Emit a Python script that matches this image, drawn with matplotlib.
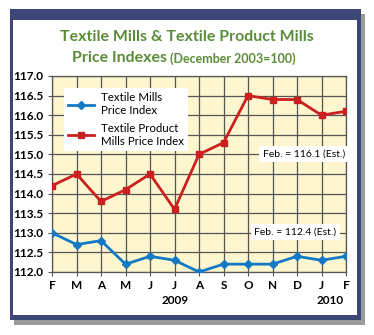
import numpy as np
import matplotlib.pyplot as plt
from matplotlib.patches import Rectangle

# Monthly price indexes, Feb 2009 - Feb 2010 (December 2003 = 100)
months = ['F', 'M', 'A', 'M', 'J', 'J', 'A', 'S', 'O', 'N', 'D', 'J', 'F']
mills = [113.0, 112.7, 112.8, 112.2, 112.4, 112.3, 112.0, 112.2, 112.2, 112.2, 112.4, 112.3, 112.4]
product_mills = [114.2, 114.5, 113.8, 114.1, 114.5, 113.6, 115.0, 115.3, 116.5, 116.4, 116.4, 116.0, 116.1]
yticks = [112.0, 112.5, 113.0, 113.5, 114.0, 114.5, 115.0, 115.5, 116.0, 116.5, 117.0]

W, H = 374, 335
fig = plt.figure(figsize=(W / 100, H / 100), dpi=100)
fig.patch.set_facecolor('white')

def px(x0, y0, x1, y1):
    # pixel box (top-left origin) -> figure fraction rect
    return (x0 / W, 1 - y1 / H), (x1 - x0) / W, (y1 - y0) / H

navy = '#3d4677'
# drop shadow, navy frame, white panel
for i, ((x0, y0, x1, y1), c) in enumerate([((14, 14, 365, 325), '#9a9a9a'),
                                           ((10, 9, 361, 320), navy),
                                           ((13, 20, 357, 315), 'white')]):
    xy, w, h = px(x0, y0, x1, y1)
    fig.patches.append(Rectangle(xy, w, h, transform=fig.transFigure,
                                 facecolor=c, edgecolor='none', zorder=-10 + i))

green = '#5b8c3a'
fig.text(187 / W, 1 - 37 / H, 'Textile Mills & Textile Product Mills', ha='center', va='center',
         color=green, fontsize=11.5, fontweight='bold', family='Lato')
fig.text(167 / W, 1 - 58 / H, 'Price Indexes', ha='right', va='center',
         color=green, fontsize=11.5, fontweight='bold', family='Lato')
fig.text(170 / W, 1 - 59 / H, '(December 2003=100)', ha='left', va='center',
         color=green, fontsize=9, fontweight='bold', family='Lato')

xy, w, h = px(52, 76, 346, 272)
ax = fig.add_axes([xy[0], xy[1], w, h])
ax.set_facecolor('#fdf6cf')
x = np.arange(len(months))

ax.plot(x, mills, color='#1479c4', lw=2, marker='D', ms=4.5, label='Textile Mills\nPrice Index', zorder=3)
ax.plot(x, product_mills, color='#cc2020', lw=2, marker='s', ms=4.2, label='Textile Product\nMills Price Index', zorder=3)

ax.set_xlim(0, len(months) - 1)
ax.set_ylim(112, 117)
ax.set_xticks(x)
ax.set_xticklabels(months)
ax.set_yticks(yticks)
ax.set_yticklabels(['%.1f' % v for v in yticks])
ax.grid(True, color='#555555', lw=0.9)
ax.set_axisbelow(True)
for s in ax.spines.values():
    s.set_color('#555555')
    s.set_linewidth(0.9)
ax.tick_params(length=3, color='#555555', pad=3)
for lab in ax.get_xticklabels() + ax.get_yticklabels():
    lab.set_fontweight('bold')
    lab.set_fontsize(8.5)
    lab.set_family('Lato')

fig.text(175 / W, 1 - 300 / H, '2009', ha='center', va='center', fontsize=8.5,
         fontweight='bold', family='Lato')
fig.text(330 / W, 1 - 300 / H, '2010', ha='center', va='center', fontsize=8.5,
         fontweight='bold', family='Lato')

leg = ax.legend(loc='upper left', bbox_to_anchor=(0.02, 0.97), frameon=True, fancybox=False,
                framealpha=1, edgecolor='white', prop={'family': 'Lato', 'size': 8.3},
                handlelength=2.2, labelspacing=0.6, borderpad=0.4, handletextpad=0.6)
leg.get_frame().set_linewidth(0)

box = dict(facecolor='white', edgecolor='none', pad=2.5)
ax.text(11.95, 115.0, 'Feb. = %.1f (Est.)' % product_mills[-1], ha='right', va='center',
        fontsize=7.5, family='Lato', bbox=box)
ax.text(11.6, 113.03, 'Feb. = %.1f (Est.)' % mills[-1], ha='right', va='center',
        fontsize=7.5, family='Lato', bbox=box)

fig.savefig('out.png', dpi=100)
